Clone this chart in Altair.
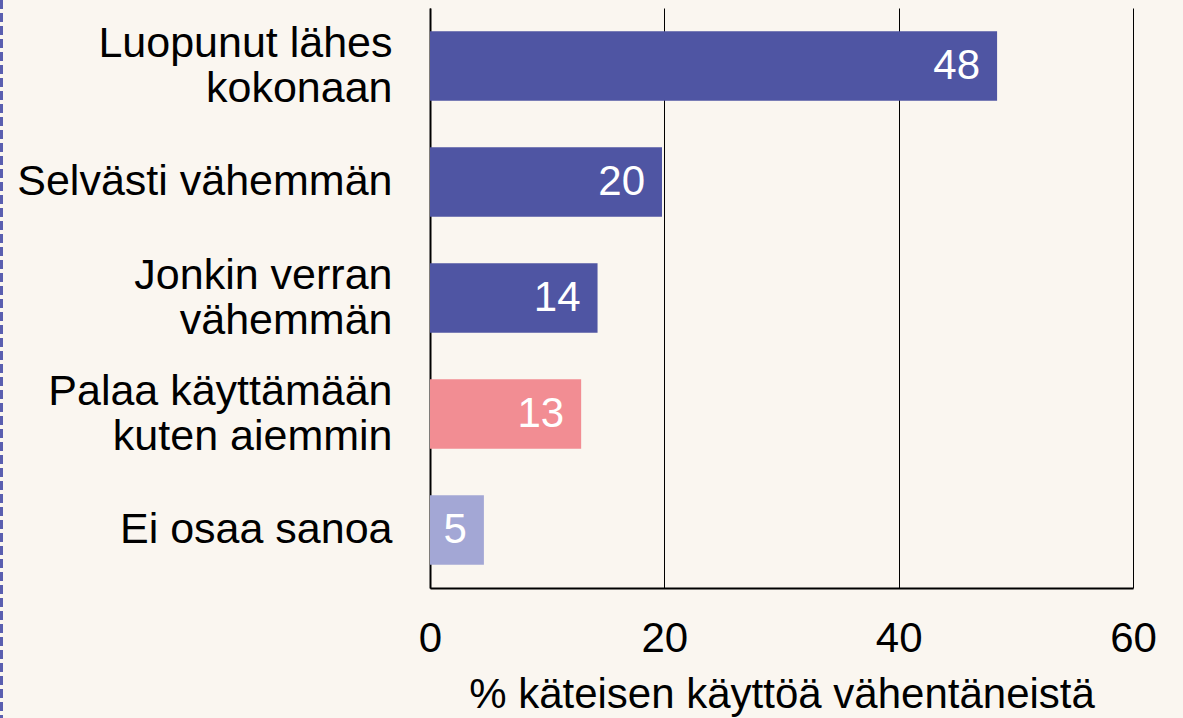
import altair as alt
import pandas as pd

categories = ["Luopunut lähes|kokonaan", "Selvästi vähemmän", "Jonkin verran|vähemmän",
              "Palaa käyttämään|kuten aiemmin", "Ei osaa sanoa"]
values = [48.4, 19.8, 14.3, 12.9, 4.6]
labels = ["48", "20", "14", "13", "5"]
colors = ["#4f55a3", "#4f55a3", "#4f55a3", "#f28d93", "#a3a7d5"]
x_ticks = [0, 20, 40, 60]

df = pd.DataFrame({"cat": categories, "val": values, "lab": labels, "col": colors})
FONT = "Liberation Sans"
FS = 42

base = alt.Chart(df)
y_enc = alt.Y("cat:N", sort=categories, title=None,
              scale=alt.Scale(paddingInner=0.4, paddingOuter=0.2),
              axis=alt.Axis(labelExpr="split(datum.label, '|')", labelFontSize=43,
                            labelFont=FONT, labelColor="black", labelPadding=38,
                            labelLineHeight=45, ticks=False, domainColor="black",
                            domainWidth=2, labelLimit=600,
                            labelOffset={"condition": {"test": "indexof(datum.value, '|') >= 0",
                                                       "value": -22}, "value": 0}))

bars = base.mark_bar().encode(
    x=alt.X("val:Q", scale=alt.Scale(domain=[0, 60], nice=False),
            title="% käteisen käyttöä vähentäneistä",
            axis=alt.Axis(values=x_ticks, grid=True, gridColor="black", gridWidth=1,
                          gridOpacity=1, ticks=False, domainColor="black", domainWidth=2,
                          labelFlush=False,
                          labelFontSize=FS, labelFont=FONT, labelColor="black",
                          labelPadding=30, titleFontSize=FS, titleFont=FONT,
                          titleFontWeight="normal", titleColor="black", titlePadding=15)),
    y=y_enc,
    color=alt.Color("col:N", scale=None),
)

text = base.mark_text(align="right", baseline="middle", dx=-17, color="white",
                      fontSize=FS, font=FONT).encode(
    x="val:Q", y=alt.Y("cat:N", sort=categories), text="lab:N")

dash = alt.Chart(pd.DataFrame({"a": [0]})).mark_rule(
    color="#5a5fb0", strokeWidth=3, strokeDash=[9, 4]).encode(
    x=alt.value(-428.5), y=alt.value(-8), y2=alt.value(710))

chart = alt.layer(bars, text, dash).properties(
    width=703, height=580, background="#faf6f0",
    padding={"left": 430, "top": 8, "right": 50, "bottom": 130},
    autosize=alt.AutoSizeParams(type="none"),
).configure_view(stroke=None)

chart.save("out.html", embed_options={"renderer": "svg", "actions": False})
